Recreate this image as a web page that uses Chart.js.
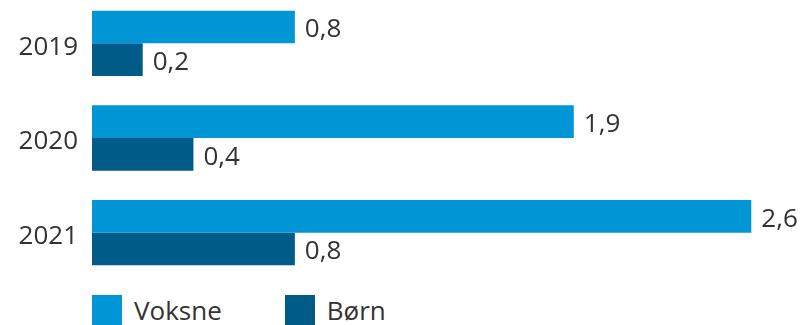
<!DOCTYPE html>
<html>
<head>
<meta charset="utf-8">
<script src="https://cdn.jsdelivr.net/npm/chart.js@4/dist/chart.umd.min.js"></script>
<style>
  html, body { margin: 0; padding: 0; background: #fff; }
  #wrap { position: relative; width: 808px; height: 325px; overflow: hidden; }
  #box { position: absolute; left: 0; top: -4px; width: 808px; height: 292px; }
  #legend { position: absolute; left: 92px; top: 295px; display: flex;
            font-family: 'Open Sans', sans-serif; font-size: 26px; color: #333; }
  .item { display: flex; align-items: center; height: 30px; }
  .swatch { width: 30px; height: 30px; margin-right: 12px; }
</style>
</head>
<body>
<div id="wrap">
  <div id="box"><canvas id="chart"></canvas></div>
  <div id="legend"></div>
</div>
<script>
const years = ['2019', '2020', '2021'];
const voksne = [0.8, 1.9, 2.6];
const boern = [0.2, 0.4, 0.8];
const seriesNames = ['Voksne', 'Børn'];
const colors = ['#0096d6', '#005b88'];

const FONT = "'Open Sans', sans-serif";
const TEXT = '#333333';

// value labels at the end of each bar, Danish decimal comma
const barLabels = {
  id: 'barLabels',
  afterDatasetsDraw(chart) {
    const ctx = chart.ctx;
    ctx.save();
    ctx.font = `26px ${FONT}`;
    ctx.fillStyle = TEXT;
    ctx.textAlign = 'left';
    ctx.textBaseline = 'middle';
    chart.data.datasets.forEach((ds, i) => {
      chart.getDatasetMeta(i).data.forEach((bar, j) => {
        const txt = ds.data[j].toFixed(1).replace('.', ',');
        ctx.fillText(txt, bar.x + 10, bar.y + 3);
      });
    });
    ctx.restore();
  },
};

new Chart(document.getElementById('chart'), {
  type: 'bar',
  data: {
    labels: years,
    datasets: [
      { label: seriesNames[0], data: voksne, backgroundColor: colors[0] },
      { label: seriesNames[1], data: boern, backgroundColor: colors[1] },
    ],
  },
  options: {
    indexAxis: 'y',
    responsive: true, maintainAspectRatio: false,
    animation: false,
    categoryPercentage: 0.69,
    barPercentage: 1,
    layout: { padding: { top: 0, right: 6, bottom: 8, left: 0 } },
    plugins: { legend: { display: false }, tooltip: { enabled: false } },
    scales: {
      x: { min: 0, max: 2.8, display: false },
      y: {
        grid: { display: false },
        border: { display: false },
        ticks: { color: TEXT, padding: 6, labelOffset: 4, font: { family: FONT, size: 26 } },
        afterFit(scale) {
          scale.width = 92;
          scale.paddingTop = 0;
          scale.paddingBottom = 0;
        },
      },
    },
  },
  plugins: [barLabels],
});

// legend
const legend = document.getElementById('legend');
seriesNames.forEach((name, i) => {
  const item = document.createElement('div');
  item.className = 'item';
  item.style.marginRight = i === 0 ? '63px' : '0';
  item.innerHTML = `<span class="swatch" style="background:${colors[i]}"></span><span>${name}</span>`;
  legend.appendChild(item);
});
</script>
</body>
</html>
